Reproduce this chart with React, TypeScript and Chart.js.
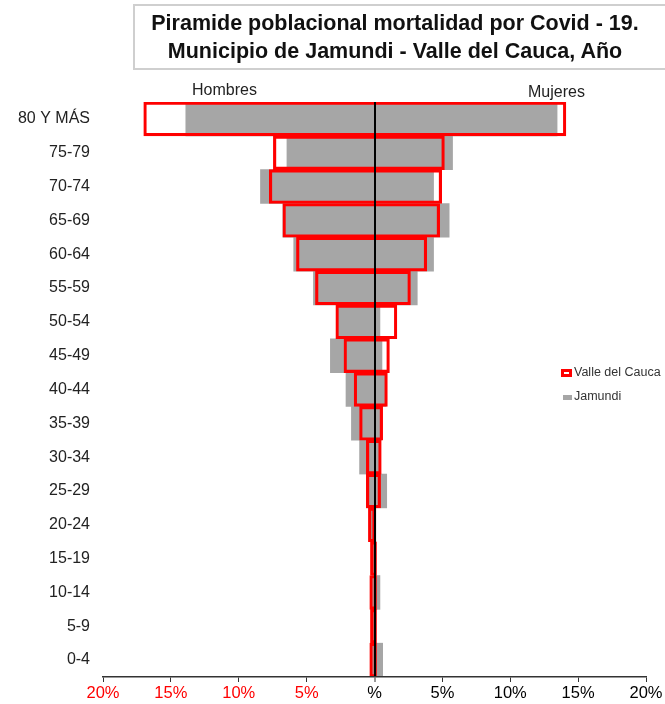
import React, { useEffect, useRef } from "react";
import { Chart, registerables } from "chart.js";

Chart.register(...registerables);

const categories = [
  "80 Y MÁS", "75-79", "70-74", "65-69", "60-64", "55-59", "50-54", "45-49",
  "40-44", "35-39", "30-34", "25-29", "20-24", "15-19", "10-14", "5-9", "0-4",
];

// Valle del Cauca (red outline), % hombres / mujeres
const valleHombres = [17.0, 7.45, 7.75, 6.75, 5.75, 4.35, 2.85, 2.25, 1.5, 1.1, 0.6, 0.6, 0.45, 0.3, 0.35, 0.3, 0.35];
const valleMujeres = [14.1, 5.15, 4.95, 4.8, 3.85, 2.65, 1.65, 1.1, 0.95, 0.6, 0.5, 0.45, 0.05, 0.15, 0.15, 0.15, 0.15];

// Jamundi (gray), % hombres / mujeres
const jamundiHombres = [13.9, 6.45, 8.4, 6.75, 5.95, 4.5, 2.8, 3.25, 2.1, 1.7, 1.1, 0.6, 0.4, 0.15, 0.2, 0.15, 0.2];
const jamundiMujeres = [13.45, 5.75, 4.35, 5.5, 4.35, 3.15, 0.4, 0.55, 0.85, 0.5, 0.45, 0.9, 0.1, 0.1, 0.4, 0.1, 0.6];

const xTicks = [-20, -15, -10, -5, 0, 5, 10, 15, 20];

const FONT = "'Liberation Sans', Arial, sans-serif";

export default function App() {
  const ref = useRef<HTMLCanvasElement | null>(null);

  useEffect(() => {
    document.body.style.margin = "0";
    const canvas = ref.current;
    if (!canvas) return;
    Chart.defaults.font.family = FONT;
    const chart = new Chart(canvas, {
      type: "bar",
      data: {
        labels: categories,
        datasets: [
          {
            label: "Valle del Cauca",
            data: categories.map((_, i) => [-valleHombres[i], valleMujeres[i]]) as any,
            backgroundColor: "rgba(0,0,0,0)",
            borderColor: "#ff0000",
            borderWidth: 2.5,
            borderSkipped: false,
            grouped: false,
            order: 0,
            barPercentage: 1,
            categoryPercentage: 1,
          } as any,
          {
            label: "Jamundi",
            data: categories.map((_, i) => [-jamundiHombres[i], jamundiMujeres[i]]) as any,
            backgroundColor: "#a6a6a6",
            borderWidth: 0,
            grouped: false,
            order: 1,
            barPercentage: 1,
            categoryPercentage: 1,
          } as any,
        ],
      },
      options: {
        indexAxis: "y",
        responsive: false,
        animation: false,
        layout: { padding: { top: 102, right: 19, left: 0, bottom: 0 } },
        plugins: {
          legend: { display: false },
          tooltip: { enabled: false },
          title: { display: false },
        },
        scales: {
          x: {
            type: "linear",
            min: -20,
            max: 20,
            afterBuildTicks: (scale: any) => {
              scale.ticks = xTicks.map((v) => ({ value: v }));
            },
            afterFit: (scale: any) => {
              scale.height = 27;
            },
            ticks: {
              padding: 2,
              font: { size: 16.5, family: FONT },
              color: (ctx: any) => (ctx.tick && ctx.tick.value < 0 ? "#ff0000" : "#000000"),
              callback: (v: any) => (Number(v) === 0 ? "%" : Math.abs(Number(v)) + "%"),
              maxRotation: 0,
              autoSkip: false,
            },
            grid: {
              z: 1,
              drawOnChartArea: true,
              drawTicks: true,
              tickLength: 5,
              color: (ctx: any) => (ctx.tick && ctx.tick.value === 0 ? "#000000" : "rgba(0,0,0,0)"),
              lineWidth: (ctx: any) => (ctx.tick && ctx.tick.value === 0 ? 2 : 1),
              tickColor: "#333333",
              tickWidth: 1,
            },
            border: { color: "#333333", width: 1.5, z: 1 },
          },
          y: {
            type: "category",
            position: "left",
            offset: true,
            afterFit: (scale: any) => {
              scale.width = 103;
            },
            ticks: {
              padding: 13,
              font: { size: 16, family: FONT },
              color: "#222222",
              autoSkip: false,
            },
            grid: { display: false, drawTicks: false },
            border: { display: false },
          },
        },
      } as any,
    });
    return () => chart.destroy();
  }, []);

  return (
    <div style={{ position: "relative", width: 665, height: 704, overflow: "hidden", background: "#fff", fontFamily: FONT }}>
      <canvas ref={ref} width={665} height={704} style={{ position: "absolute", left: 0, top: 0, width: 665, height: 704 }} />
      <div
        style={{
          position: "absolute",
          left: 133,
          top: 4,
          width: 620,
          height: 66,
          border: "2px solid #cfcfcf",
          boxSizing: "border-box",
        }}
      />
      <div
        style={{
          position: "absolute",
          left: 133,
          top: 9,
          width: 524,
          textAlign: "center",
          fontWeight: "bold",
          fontSize: 21.5,
          lineHeight: "28px",
          color: "#111",
          whiteSpace: "nowrap",
        }}
      >
        Piramide poblacional mortalidad por Covid - 19.
        <br />
        Municipio de Jamundi - Valle del Cauca, Año
      </div>
      <div style={{ position: "absolute", left: 192, top: 81, fontSize: 16, color: "#222" }}>Hombres</div>
      <div style={{ position: "absolute", left: 528, top: 83, fontSize: 16, color: "#222" }}>Mujeres</div>
      <div
        style={{
          position: "absolute",
          left: 561,
          top: 369,
          width: 11,
          height: 8,
          border: "3px solid #ff0000",
          boxSizing: "border-box",
          background: "#fff",
        }}
      />
      <div style={{ position: "absolute", left: 574, top: 365, fontSize: 12.5, color: "#333", lineHeight: "15px" }}>Valle del Cauca</div>
      <div style={{ position: "absolute", left: 563, top: 395, width: 9, height: 5, background: "#a6a6a6" }} />
      <div style={{ position: "absolute", left: 574, top: 389, fontSize: 12.5, color: "#333", lineHeight: "15px" }}>Jamundi</div>
    </div>
  );
}
